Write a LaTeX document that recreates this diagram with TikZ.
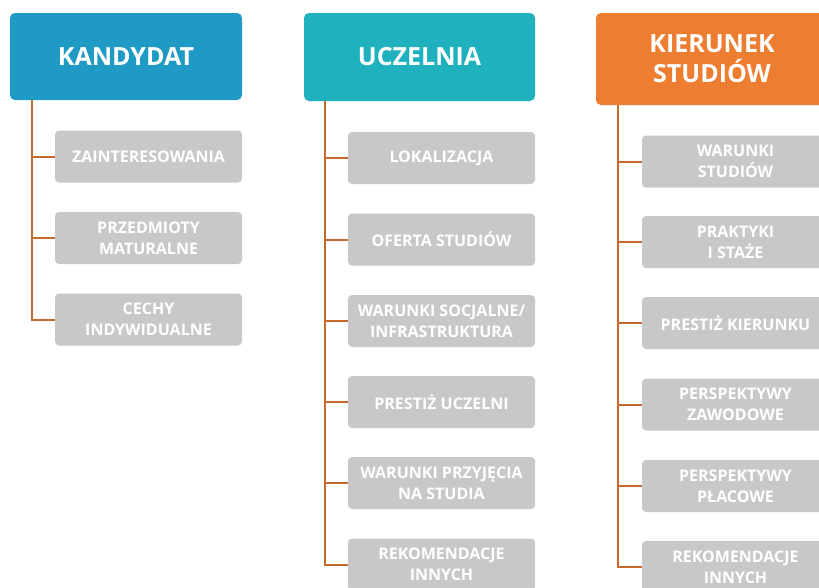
\documentclass[tikz,border=0pt]{standalone}
\usepackage{fontspec}
\setmainfont{Open Sans}
\definecolor{cblue}{RGB}{30,154,196}
\definecolor{cteal}{RGB}{31,178,190}
\definecolor{corange}{RGB}{237,125,49}
\definecolor{cgray}{RGB}{200,200,200}
\definecolor{cline}{RGB}{197,105,45}
\begin{document}
\begin{tikzpicture}[x=1pt,y=-1pt,
  head/.style={draw=none,rounded corners=5pt,minimum width=232pt,text=white,
    font=\fontsize{25}{30}\selectfont\bfseries,align=center,inner sep=0pt},
  item/.style={draw=none,fill=cgray,rounded corners=4pt,minimum width=187pt,
    minimum height=52pt,text=white,font=\fontsize{16}{21}\selectfont\bfseries,
    align=center,inner sep=0pt},
  conn/.style={draw=cline,line width=2pt}]
\useasboundingbox (0,0) rectangle (819,587);
\fill[white] (0,0) rectangle (819,587);
% headers
\node[head,fill=cblue,minimum height=87pt] (h1) at (126,56.5) {KANDYDAT};
\node[head,fill=cteal,minimum height=88pt,minimum width=231pt] (h2) at (419.5,57) {UCZELNIA};
\node[head,fill=corange,minimum height=92pt] (h3) at (712,59) {KIERUNEK\\STUDIÓW};
% column 1
\node[item] (a1) at (148.5,156.5) {ZAINTERESOWANIA};
\node[item] (a2) at (148.5,238) {PRZEDMIOTY\\MATURALNE};
\node[item] (a3) at (148.5,319.5) {CECHY\\INDYWIDUALNE};
% column 2
\node[item] (b1) at (441.5,158) {LOKALIZACJA};
\node[item] (b2) at (441.5,239.5) {OFERTA STUDIÓW};
\node[item] (b3) at (441.5,321) {WARUNKI SOCJALNE/\\INFRASTRUKTURA};
\node[item] (b4) at (441.5,402) {PRESTIŻ UCZELNI};
\node[item] (b5) at (441.5,483) {WARUNKI PRZYJĘCIA\\NA STUDIA};
\node[item] (b6) at (441.5,564.5) {REKOMENDACJE\\INNYCH};
% column 3
\node[item] (c1) at (735.5,161.5) {WARUNKI\\STUDIÓW};
\node[item] (c2) at (735.5,242) {PRAKTYKI\\I STAŻE};
\node[item] (c3) at (735.5,323) {PRESTIŻ KIERUNKU};
\node[item] (c4) at (735.5,404.5) {PERSPEKTYWY\\ZAWODOWE};
\node[item] (c5) at (735.5,486) {PERSPEKTYWY\\PŁACOWE};
\node[item] (c6) at (735.5,567) {REKOMENDACJE\\INNYCH};
% connectors
\coordinate (v1) at (32,0);
\coordinate (v2) at (325,0);
\coordinate (v3) at (618,0);
\draw[conn] (v1 |- h1.south) -- (v1 |- a3.west) -- (a3.west);
\foreach \n in {a1,a2} \draw[conn] (v1 |- \n.west) -- (\n.west);
\draw[conn] (v2 |- h2.south) -- (v2 |- b6.west) -- (b6.west);
\foreach \n in {b1,b2,b3,b4,b5} \draw[conn] (v2 |- \n.west) -- (\n.west);
\draw[conn] (v3 |- h3.south) -- (v3 |- c6.west) -- (c6.west);
\foreach \n in {c1,c2,c3,c4,c5} \draw[conn] (v3 |- \n.west) -- (\n.west);
\end{tikzpicture}
\end{document}
